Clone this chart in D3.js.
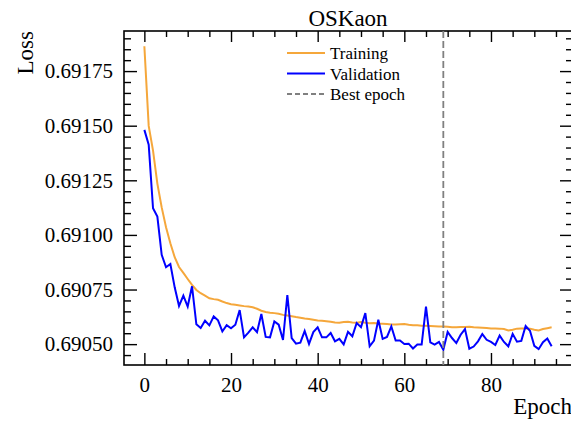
<!DOCTYPE html>
<html>
<head>
<meta charset="utf-8">
<script src="https://cdn.jsdelivr.net/npm/d3@7"></script>
<style>
  body { margin: 0; background: #fff; }
  svg { display: block; font-family: "Liberation Serif", "Times New Roman", serif; }
</style>
</head>
<body>
<div id="chart"></div>
<script>
// data
const title = "OSKaon";
const seriesNames = ["Training", "Validation", "Best epoch"];

const trainLoss = [
  0.691864, 0.691499, 0.691386, 0.691235, 0.691126, 0.691035, 0.690962, 0.690898, 0.690853, 0.690826,
  0.690798, 0.690771, 0.690748, 0.690733, 0.690722, 0.690710, 0.690706, 0.690703, 0.690695, 0.690688,
  0.690683, 0.690680, 0.690677, 0.690674, 0.690672, 0.690669, 0.690662, 0.690653, 0.690647, 0.690644,
  0.690642, 0.690639, 0.690634, 0.690631, 0.690628, 0.690624, 0.690621, 0.690617, 0.690615, 0.690612,
  0.690608, 0.690607, 0.690605, 0.690602, 0.690599, 0.690598, 0.690601, 0.690602, 0.690599, 0.690598,
  0.690601, 0.690598, 0.690596, 0.690597, 0.690594, 0.690593, 0.690592, 0.690590, 0.690590, 0.690591,
  0.690592, 0.690589, 0.690587, 0.690586, 0.690584, 0.690584, 0.690583, 0.690582, 0.690581, 0.690581,
  0.690580, 0.690577, 0.690577, 0.690578, 0.690579, 0.690580, 0.690577, 0.690576, 0.690575, 0.690574,
  0.690572, 0.690572, 0.690571, 0.690569, 0.690563, 0.690566, 0.690571, 0.690572, 0.690572, 0.690571,
  0.690566, 0.690563, 0.690569, 0.690573, 0.690577
];

const valLoss = [
  0.691481, 0.691413, 0.691122, 0.691084, 0.690909, 0.690852, 0.690867, 0.690760, 0.690675, 0.690722,
  0.690672, 0.690765, 0.690591, 0.690574, 0.690607, 0.690586, 0.690627, 0.690609, 0.690558, 0.690587,
  0.690573, 0.690589, 0.690656, 0.690531, 0.690553, 0.690577, 0.690555, 0.690638, 0.690533, 0.690531,
  0.690604, 0.690589, 0.690519, 0.690725, 0.690528, 0.690502, 0.690507, 0.690560, 0.690501, 0.690555,
  0.690577, 0.690531, 0.690531, 0.690551, 0.690513, 0.690524, 0.690499, 0.690556, 0.690536, 0.690597,
  0.690578, 0.690642, 0.690490, 0.690516, 0.690612, 0.690524, 0.690533, 0.690581, 0.690517, 0.690517,
  0.690501, 0.690502, 0.690480, 0.690498, 0.690498, 0.690672, 0.690508, 0.690498, 0.690510, 0.690474,
  0.690556, 0.690528, 0.690505, 0.690543, 0.690569, 0.690479, 0.690489, 0.690513, 0.690546, 0.690520,
  0.690510, 0.690496, 0.690539, 0.690510, 0.690490, 0.690547, 0.690511, 0.690515, 0.690583, 0.690561,
  0.690492, 0.690477, 0.690509, 0.690526, 0.690490
];

const xMajorTicks = [0, 20, 40, 60, 80];
const yMajorTicks = [0.69050, 0.69075, 0.69100, 0.69125, 0.69150, 0.69175];

// size
const width = 571;
const height = 422;
const margin = { top: 31, left: 124, bottom: 57, rightEdge: 572 };
const plotBottom = height - margin.bottom;

const svg = d3.select("#chart")
  .append("svg")
  .attr("width", width)
  .attr("height", height);

const epochs = trainLoss.map((_, i) => i);
const bestEpoch = d3.minIndex(valLoss);

// scales (matplotlib style 5% padding)
const xPad = (epochs.length - 1) * 0.05;
const xScale = d3.scaleLinear()
  .domain([-xPad, epochs.length - 1 + xPad])
  .range([margin.left, margin.rightEdge]);

const allY = trainLoss.concat(valLoss);
const yMin = d3.min(allY), yMax = d3.max(allY);
const yPad = (yMax - yMin) * 0.05;
const yScale = d3.scaleLinear()
  .domain([yMin - yPad, yMax + yPad])
  .range([plotBottom, margin.top]);

// minor ticks
const xMinor = d3.range(5, 100, 5).filter(d => !xMajorTicks.includes(d));
const yMinor = d3.range(0, 40).map(i => +(0.69040 + i * 0.00005).toFixed(5))
  .filter(d => d > yScale.domain()[0] && d < yScale.domain()[1])
  .filter(d => !yMajorTicks.some(t => Math.abs(t - d) < 1e-9));

function styleAxis(g) {
  g.select(".domain").remove();
  g.selectAll(".tick line").attr("stroke", "#000").attr("stroke-width", 1.4);
  g.selectAll("text").attr("fill", "#000").style("font-size", "21px")
    .style("font-family", "Liberation Serif, serif");
}

// bottom axis
svg.append("g")
  .attr("transform", `translate(0,${plotBottom})`)
  .call(d3.axisBottom(xScale).tickValues(xMajorTicks).tickSize(-12).tickPadding(12).tickFormat(d3.format("d")))
  .call(styleAxis);
svg.append("g")
  .attr("transform", `translate(0,${plotBottom})`)
  .call(d3.axisBottom(xScale).tickValues(xMinor).tickSize(-6).tickFormat(""))
  .call(styleAxis);

// top axis
svg.append("g")
  .attr("transform", `translate(0,${margin.top})`)
  .call(d3.axisTop(xScale).tickValues(xMajorTicks).tickSize(-11).tickFormat(""))
  .call(styleAxis);
svg.append("g")
  .attr("transform", `translate(0,${margin.top})`)
  .call(d3.axisTop(xScale).tickValues(xMinor).tickSize(-6).tickFormat(""))
  .call(styleAxis);

// left axis
svg.append("g")
  .attr("transform", `translate(${margin.left},0)`)
  .call(d3.axisLeft(yScale).tickValues(yMajorTicks).tickSize(-13).tickPadding(11).tickFormat(d3.format(".5f")))
  .call(styleAxis);
svg.append("g")
  .attr("transform", `translate(${margin.left},0)`)
  .call(d3.axisLeft(yScale).tickValues(yMinor).tickSize(-7).tickFormat(""))
  .call(styleAxis);

// right axis
svg.append("g")
  .attr("transform", `translate(${margin.rightEdge},0)`)
  .call(d3.axisRight(yScale).tickValues(yMajorTicks).tickSize(-12).tickFormat(""))
  .call(styleAxis);
svg.append("g")
  .attr("transform", `translate(${margin.rightEdge},0)`)
  .call(d3.axisRight(yScale).tickValues(yMinor).tickSize(-6).tickFormat(""))
  .call(styleAxis);

// frame
svg.append("rect")
  .attr("x", margin.left)
  .attr("y", margin.top)
  .attr("width", margin.rightEdge - margin.left)
  .attr("height", plotBottom - margin.top)
  .attr("fill", "none")
  .attr("stroke", "#000")
  .attr("stroke-width", 1.6);

// lines
const line = d3.line()
  .x((d, i) => xScale(i))
  .y(d => yScale(d));

svg.append("path")
  .datum(trainLoss)
  .attr("fill", "none")
  .attr("stroke", "#f5a73b")
  .attr("stroke-width", 2)
  .attr("d", line);

svg.append("path")
  .datum(valLoss)
  .attr("fill", "none")
  .attr("stroke", "#0000ff")
  .attr("stroke-width", 2)
  .attr("d", line);

// best epoch line
svg.append("line")
  .attr("x1", xScale(bestEpoch))
  .attr("x2", xScale(bestEpoch))
  .attr("y1", margin.top)
  .attr("y2", plotBottom)
  .attr("stroke", "#808080")
  .attr("stroke-width", 1.8)
  .attr("stroke-dasharray", "7,3");

// legend
const legendColors = ["#f5a73b", "#0000ff", "#808080"];
const legend = svg.append("g").attr("transform", "translate(287,53)");
seriesNames.forEach((name, i) => {
  const row = legend.append("g").attr("transform", `translate(0,${i * 20.5})`);
  row.append("line")
    .attr("x1", 0).attr("x2", 38)
    .attr("y1", 0).attr("y2", 0)
    .attr("stroke", legendColors[i])
    .attr("stroke-width", i === 2 ? 1.8 : 2)
    .attr("stroke-dasharray", i === 2 ? "5,3" : null);
  row.append("text")
    .attr("x", 43)
    .attr("y", 6)
    .style("font-size", "17px")
    .text(name);
});

// title and labels
svg.append("text")
  .attr("x", (margin.left + margin.rightEdge) / 2)
  .attr("y", 26)
  .attr("text-anchor", "middle")
  .style("font-size", "23px")
  .text(title);

svg.append("text")
  .attr("x", margin.rightEdge)
  .attr("y", 414)
  .attr("text-anchor", "end")
  .style("font-size", "23px")
  .text("Epoch");

svg.append("text")
  .attr("transform", `translate(33,${margin.top}) rotate(-90)`)
  .attr("text-anchor", "end")
  .style("font-size", "23px")
  .text("Loss");
</script>
</body>
</html>
